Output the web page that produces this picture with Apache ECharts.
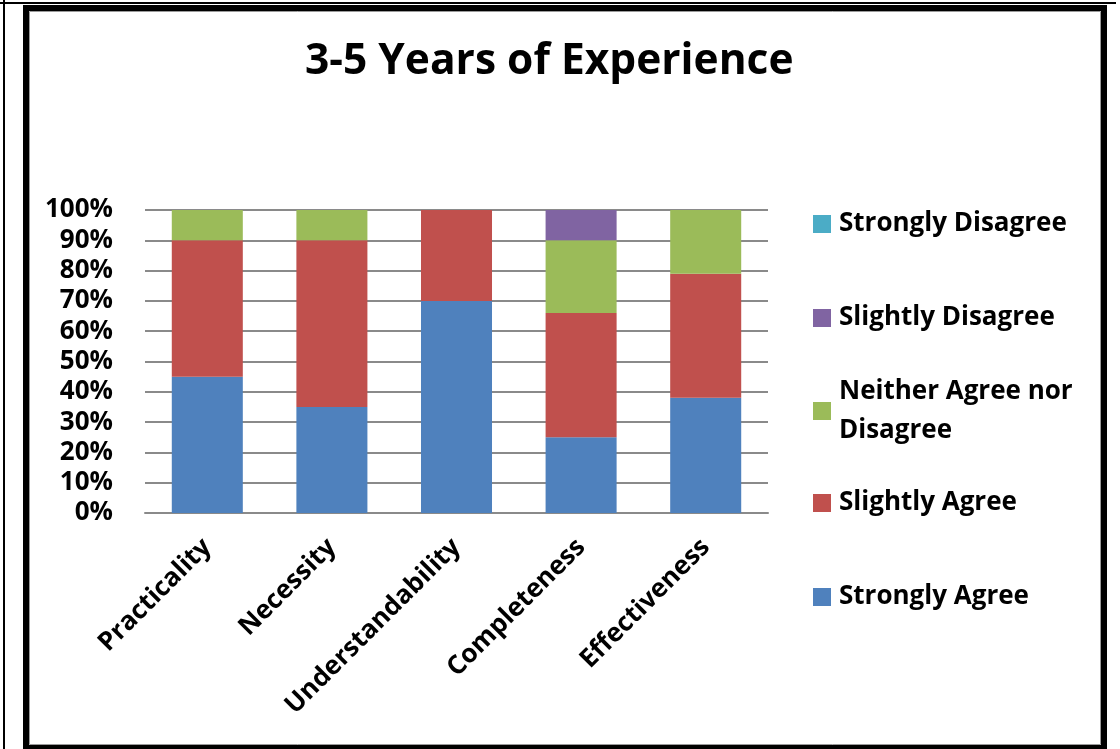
<!DOCTYPE html>
<html>
<head>
<meta charset="utf-8">
<script src="https://cdn.jsdelivr.net/npm/echarts@6/dist/echarts.min.js"></script>
<style>
  html, body { margin: 0; padding: 0; background: #ffffff; }
  #chart { width: 1120px; height: 749px; }
</style>
</head>
<body>
<div id="chart"></div>
<script>
// Survey responses (percent of respondents) for the 3-5 years group
const categories = ['Practicality', 'Necessity', 'Understandability', 'Completeness', 'Effectiveness'];
const stronglyAgree    = [45, 35, 70, 25, 38];
const slightlyAgree    = [45, 55, 30, 41, 41];
const neitherAgree     = [10, 10, 0, 24, 21];
const slightlyDisagree = [0, 0, 0, 10, 0];
const stronglyDisagree = [0, 0, 0, 0, 0];
const yTicks = [0, 10, 20, 30, 40, 50, 60, 70, 80, 90, 100];

const FONT = 'Open Sans';
const seriesDefs = [
  { name: 'Strongly Agree', data: stronglyAgree, color: '#4F81BD' },
  { name: 'Slightly Agree', data: slightlyAgree, color: '#C0504D' },
  { name: 'Neither Agree nor Disagree', data: neitherAgree, color: '#9BBB59' },
  { name: 'Slightly Disagree', data: slightlyDisagree, color: '#8064A2' },
  { name: 'Strongly Disagree', data: stronglyDisagree, color: '#4BACC6' }
];

// Legend rows, top to bottom, with the vertical centre of each row's first line
const legendRows = [
  { name: 'Strongly Disagree', y: 224 },
  { name: 'Slightly Disagree', y: 318 },
  { name: 'Neither Agree nor Disagree', y: 411, wrap: true },
  { name: 'Slightly Agree', y: 503 },
  { name: 'Strongly Agree', y: 597 }
];

const LINE_H = 39;
const legends = legendRows.map(function (row) {
  const lg = {
    orient: 'vertical',
    left: 813,
    padding: 0,
    itemWidth: 18,
    itemHeight: 18,
    itemGap: 0,
    selectedMode: false,
    icon: 'rect',
    data: [row.name],
    textStyle: {
      fontFamily: FONT,
      fontWeight: 'bold',
      fontSize: 26,
      color: '#000000',
      lineHeight: LINE_H,
      padding: [0, 0, 0, 3]
    }
  };
  if (row.wrap) {
    lg.formatter = function () { return 'Neither Agree nor\nDisagree'; };
    lg.textStyle.padding = [LINE_H, 0, 0, 3];
    lg.top = row.y - LINE_H * 1.5;
  } else {
    lg.top = row.y - LINE_H / 2;
  }
  return lg;
});

const chart = echarts.init(document.getElementById('chart'), null, { renderer: 'canvas' });

chart.setOption({
  backgroundColor: '#ffffff',
  animation: false,
  title: {
    text: '3-5 Years of Experience',
    left: 305,
    top: 40,
    padding: 0,
    textStyle: {
      fontFamily: FONT,
      fontWeight: 'bold',
      fontSize: 42.5,
      color: '#000000'
    }
  },
  legend: legends,
  grid: { left: 145, right: 352, top: 210, bottom: 236 },
  xAxis: {
    type: 'category',
    data: categories,
    axisLine: { show: true, lineStyle: { color: '#8a8a8a', width: 2 } },
    axisTick: { show: false },
    axisLabel: {
      rotate: 45,
      margin: 30,
      interval: 0,
      fontFamily: FONT,
      fontWeight: 'bold',
      fontSize: 26,
      color: '#000000'
    }
  },
  yAxis: {
    type: 'value',
    min: 0,
    max: 100,
    interval: 10,
    axisLine: { show: false },
    axisTick: { show: false },
    splitLine: { show: true, lineStyle: { color: '#8a8a8a', width: 2 } },
    axisLabel: {
      margin: 32,
      fontFamily: FONT,
      fontWeight: 'bold',
      fontSize: 26,
      color: '#000000',
      formatter: function (v) { return yTicks.indexOf(v) >= 0 ? v + '%' : ''; }
    }
  },
  series: seriesDefs.map(function (s) {
    return {
      name: s.name,
      type: 'bar',
      stack: 'total',
      data: s.data,
      barWidth: '57%',
      itemStyle: { color: s.color },
      emphasis: { disabled: true }
    };
  }),
  graphic: [
    // thin outer edge lines
    { type: 'line', shape: { x1: 4, y1: 0, x2: 4, y2: 749 }, style: { stroke: '#000', lineWidth: 2 }, z: 100 },
    { type: 'line', shape: { x1: 0, y1: 3, x2: 1116, y2: 3 }, style: { stroke: '#000', lineWidth: 2 }, z: 100 },
    // heavy chart frame
    { type: 'rect', shape: { x: 26, y: 8, width: 1078, height: 740 }, style: { fill: null, stroke: '#000', lineWidth: 6 }, z: 100 },
    { type: 'rect', shape: { x: 29.5, y: 11.5, width: 1071, height: 733 }, style: { fill: null, stroke: '#9a9a9a', lineWidth: 1 }, z: 100 }
  ]
});
</script>
</body>
</html>
